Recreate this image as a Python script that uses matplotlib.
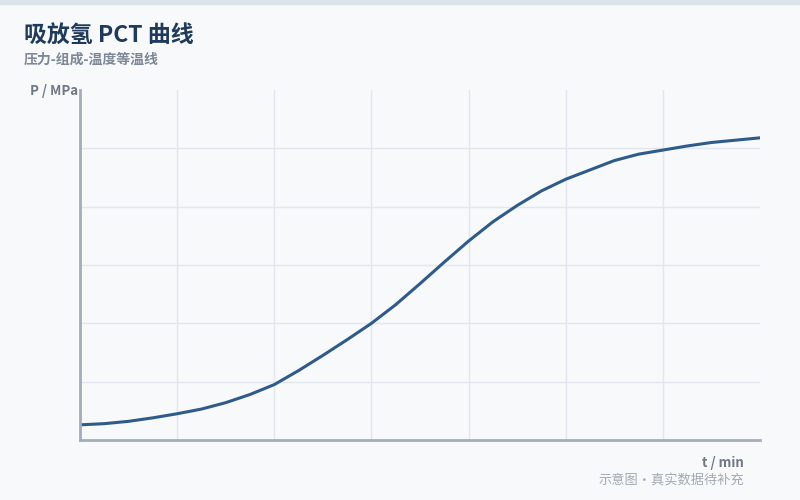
import matplotlib
matplotlib.use("Agg")
import matplotlib.pyplot as plt

plt.rcParams['font.family'] = ['Noto Sans CJK SC', 'DejaVu Sans']

t_min = [0, 2.5, 5, 7.5, 10, 12.5, 15, 17.5, 20, 22.5, 25, 27.5, 30, 32.5, 35,
         37.5, 40, 42.5, 45, 47.5, 50, 52.5, 55, 57.5, 60, 62.5, 65, 67.5, 70]
p_mpa = [0.26, 0.28, 0.32, 0.38, 0.45, 0.53, 0.64, 0.78, 0.95, 1.19, 1.45, 1.72, 2.0, 2.32, 2.68,
         3.05, 3.41, 3.74, 4.02, 4.27, 4.47, 4.63, 4.79, 4.90, 4.97, 5.04, 5.10, 5.14, 5.18]
x_grid = [10, 20, 30, 40, 50, 60]
y_grid = [1, 2, 3, 4, 5]

title = "吸放氢 PCT 曲线"
subtitle = "压力-组成-温度等温线"
ylabel = "P / MPa"
xlabel = "t / min"
note = "示意图・真实数据待补充"

bg = "#f7f9fb"
fig = plt.figure(figsize=(8, 5), dpi=100, facecolor=bg)
ax = fig.add_axes([0.1, 0.12, 0.85, 0.70], facecolor=bg)

ax.plot(t_min, p_mpa, color="#2f5b8a", lw=2.2, solid_capstyle="round",
        solid_joinstyle="round")
ax.set_xlim(0, 70)
ax.set_ylim(0, 6)
ax.set_xticks(x_grid)
ax.set_yticks(y_grid)
ax.tick_params(length=0, labelbottom=False, labelleft=False)
ax.grid(True, color="#e2e7ef", lw=1)
for s in ["top", "right"]:
    ax.spines[s].set_visible(False)
for s in ["left", "bottom"]:
    ax.spines[s].set_color("#a3adbb")
    ax.spines[s].set_linewidth(2)

# top band
fig.patches.append(plt.Rectangle((0, 0.992), 1, 0.008, transform=fig.transFigure,
                                 color="#dde3ea", zorder=0))

fig.text(24/800, 1-35/500, title, fontsize=16.5, fontweight="bold", color="#1e3a5c",
         ha="left", va="center")
fig.text(24/800, 1-60/500, subtitle, fontsize=10, fontweight="bold", color="#7d8795",
         ha="left", va="center")
fig.text(30/800, 1-91/500, ylabel, fontsize=9.5, fontweight="bold", color="#6f7885",
         ha="left", va="center")
fig.text(744/800, 1-463/500, xlabel, fontsize=9.5, fontweight="bold", color="#6f7885",
         ha="right", va="center")
fig.text(744/800, 1-480/500, note, fontsize=9.5, color="#a3aab5",
         ha="right", va="center")

fig.savefig("out.png", dpi=100, facecolor=bg)
